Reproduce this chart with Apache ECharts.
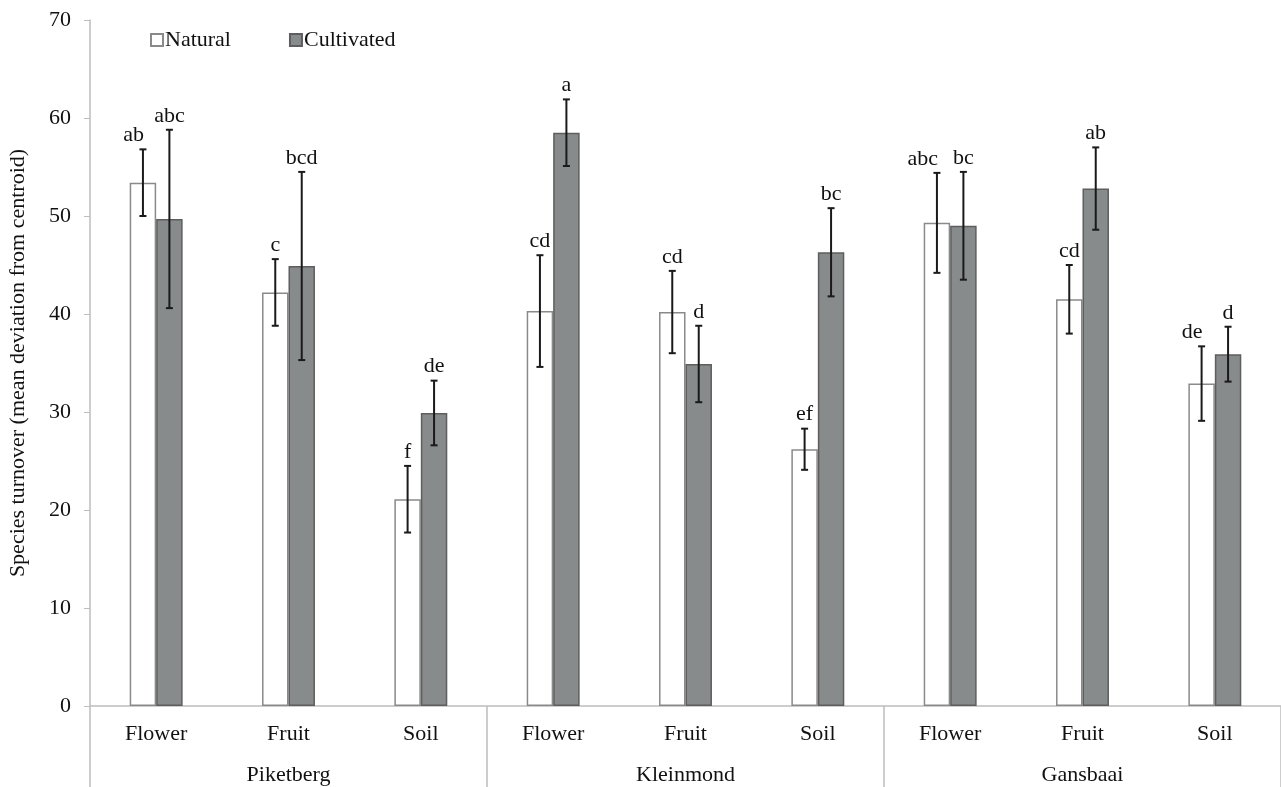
<!DOCTYPE html>
<html>
<head>
<meta charset="utf-8">
<script src="https://cdn.jsdelivr.net/npm/echarts@6/dist/echarts.min.js"></script>
<style>
html,body{margin:0;padding:0;background:#fff;}
#chart{width:1281px;height:787px;}
</style>
</head>
<body>
<div id="chart"></div>
<script>
const categories = ['Flower','Fruit','Soil','Flower','Fruit','Soil','Flower','Fruit','Soil'];
const sites = ['Piketberg','Kleinmond','Gansbaai'];
const natural = [53.4, 42.2, 21.1, 40.3, 40.2, 26.2, 49.3, 41.5, 32.9];
const naturalErr = [3.4, 3.4, 3.4, 5.7, 4.2, 2.1, 5.1, 3.5, 3.8];
const cultivated = [49.7, 44.9, 29.9, 58.5, 34.9, 46.3, 49.0, 52.8, 35.9];
const cultivatedErr = [9.1, 9.6, 3.3, 3.4, 3.9, 4.5, 5.5, 4.2, 2.8];
const naturalLetters = ['ab','c','f','cd','cd','ef','abc','cd','de'];
const cultivatedLetters = ['abc','bcd','de','a','d','bc','bc','ab','d'];
const yTicks = [0,10,20,30,40,50,60,70];

const FONT = '"Liberation Serif", "Times New Roman", serif';
const chart = echarts.init(document.getElementById('chart'));

function errSeries(name, vals, errs, letters, offsetFrac, otherVals, otherErrs) {
  return {
    name: name + ' err',
    type: 'custom',
    xAxisIndex: 0,
    yAxisIndex: 0,
    z: 10,
    silent: true,
    data: vals.map((v, i) => [i, v, errs[i]]),
    renderItem: function (params, api) {
      const i = api.value(0), v = api.value(1), e = api.value(2);
      const band = api.size([1, 0])[0];
      const x = api.coord([i, v])[0] + offsetFrac * band;
      const yt = api.coord([i, v + e])[1];
      const yb = api.coord([i, v - e])[1];
      const cap = 3.5;
      const st = {stroke: '#1a1a1a', lineWidth: 2};
      let align = 'center', tx = x;
      if (otherVals) {
        const oyt = api.coord([i, otherVals[i] + otherErrs[i]])[1];
        if (Math.abs(oyt - yt) < 28) { align = 'right'; tx = x + 1; }
      }
      return {
        type: 'group',
        children: [
          {type: 'line', shape: {x1: x, y1: yt, x2: x, y2: yb}, style: st},
          {type: 'line', shape: {x1: x - cap, y1: yt, x2: x + cap, y2: yt}, style: st},
          {type: 'line', shape: {x1: x - cap, y1: yb, x2: x + cap, y2: yb}, style: st},
          {type: 'text', style: {text: letters[params.dataIndex], x: tx, y: yt - 3,
            align: align, verticalAlign: 'bottom', font: '22px ' + FONT, fill: '#111'}}
        ]
      };
    }
  };
}

chart.setOption({
  animation: false,
  backgroundColor: '#fff',
  grid: {left: 90, right: 0, top: 20, bottom: 81, containLabel: false, outerBoundsMode: 'none'},
  legend: {
    left: 145, top: 24,
    itemWidth: 12, itemHeight: 12, itemGap: 58,
    icon: 'rect',
    textStyle: {fontFamily: FONT, fontSize: 22, color: '#111', padding: [0,0,0,-3]},
    data: ['Natural', 'Cultivated']
  },
  xAxis: [
    {
      type: 'category', data: categories, position: 'bottom',
      axisLine: {show: true, lineStyle: {color: '#bdbdbd', width: 1.5}},
      axisTick: {show: false},
      axisLabel: {fontFamily: FONT, fontSize: 22, color: '#111', margin: 17, interval: 0}
    },
    {
      type: 'category', data: sites, position: 'bottom', offset: 0,
      boundaryGap: true,
      axisLine: {show: false},
      axisTick: {show: true, length: 81, inside: false, lineStyle: {color: '#bdbdbd', width: 1.5}},
      axisLabel: {fontFamily: FONT, fontSize: 22, color: '#111', margin: 58, interval: 0}
    }
  ],
  yAxis: {
    type: 'value', min: 0, max: 70, interval: 10,
    name: 'Species turnover (mean deviation from centroid)',
    nameLocation: 'middle', nameGap: 61,
    nameTextStyle: {fontFamily: FONT, fontSize: 22, color: '#111'},
    axisLine: {show: true, lineStyle: {color: '#bdbdbd', width: 1.5}},
    axisTick: {show: true, length: 6, lineStyle: {color: '#bdbdbd'}},
    splitLine: {show: false},
    axisLabel: {fontFamily: FONT, fontSize: 22, color: '#111', margin: 19,
      formatter: v => yTicks.indexOf(v) >= 0 ? String(v) : ''}
  },
  series: [
    {
      name: 'Natural', type: 'bar', data: natural, barWidth: '20%', barGap: '0%',
      itemStyle: {color: '#ffffff', borderColor: '#8a8a8a', borderWidth: 1.5}
    },
    {
      name: 'Cultivated', type: 'bar', data: cultivated, barWidth: '20%', barGap: '0%',
      itemStyle: {color: '#878b8b', borderColor: '#5e5e5e', borderWidth: 1.5}
    },
    errSeries('Natural', natural, naturalErr, naturalLetters, -0.1, cultivated, cultivatedErr),
    errSeries('Cultivated', cultivated, cultivatedErr, cultivatedLetters, 0.1, null, null)
  ]
});
</script>
</body>
</html>
